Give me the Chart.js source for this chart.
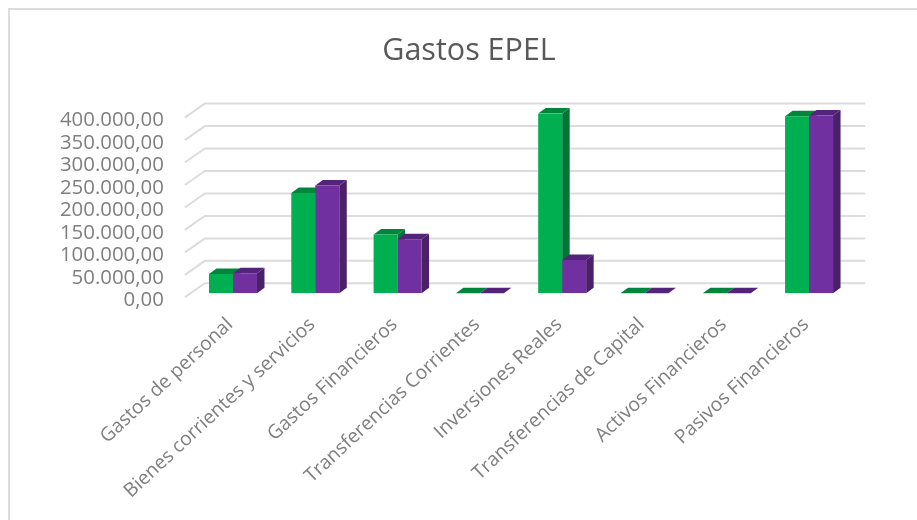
<!DOCTYPE html>
<html>
<head>
<meta charset="utf-8">
<title>Gastos EPEL</title>
<script src="https://cdn.jsdelivr.net/npm/chart.js@4"></script>
<style>
  html, body { margin: 0; padding: 0; background: #fff; }
  #wrap { position: relative; width: 917px; height: 520px; overflow: hidden; }
  #frame { position: absolute; left: 8px; top: 8px; width: 950px; height: 560px; border: 2px solid #dcdcdc; }
  canvas { position: absolute; left: 0; top: 0; }
</style>
</head>
<body>
<div id="wrap">
  <div id="frame"></div>
  <canvas id="gastosChart" width="917" height="520"></canvas>
</div>
<script>
const categories = ['Gastos de personal', 'Bienes corrientes y servicios', 'Gastos Financieros', 'Transferencias Corrientes', 'Inversiones Reales', 'Transferencias de Capital', 'Activos Financieros', 'Pasivos Financieros'];
const serieVerde = [43000, 223500, 131000, 0, 400000, 0, 0, 394000];
const serieMorada = [44500, 240000, 120500, 0, 74000, 0, 0, 395500];
const tickLabels = ['0,00', '50.000,00', '100.000,00', '150.000,00', '200.000,00', '250.000,00', '300.000,00', '350.000,00', '400.000,00'];

const depthX = 7.5;
const depthY = 5.5;
const darkColors = [{ top: '#00863c', side: '#007535' }, { top: '#53247a', side: '#4a2168' }];

// 3d look: back wall grid and the top/side faces of each bar
const fake3d = {
  id: 'fake3d',
  beforeDatasetsDraw(chart) {
    const ctx = chart.ctx;
    const area = chart.chartArea;
    const yScale = chart.scales.y;

    ctx.save();
    ctx.strokeStyle = '#dcdcdc';
    ctx.lineWidth = 2;
    yScale.ticks.forEach(t => {
      const y = yScale.getPixelForValue(t.value);
      ctx.beginPath();
      ctx.moveTo(area.left - 7, y + 4);
      ctx.lineTo(area.left + 13, y - 10);
      ctx.lineTo(area.right + 15, y - 10);
      ctx.stroke();
    });

    chart.data.datasets.forEach((ds, i) => {
      chart.getDatasetMeta(i).data.forEach(bar => {
        const left = bar.x - bar.width / 2;
        const right = bar.x + bar.width / 2;
        ctx.fillStyle = darkColors[i].side;
        ctx.beginPath();
        ctx.moveTo(right, bar.y);
        ctx.lineTo(right + depthX, bar.y - depthY);
        ctx.lineTo(right + depthX, bar.base - depthY);
        ctx.lineTo(right, bar.base);
        ctx.closePath();
        ctx.fill();
        ctx.fillStyle = darkColors[i].top;
        ctx.beginPath();
        ctx.moveTo(left, bar.y);
        ctx.lineTo(left + depthX, bar.y - depthY);
        ctx.lineTo(right + depthX, bar.y - depthY);
        ctx.lineTo(right, bar.y);
        ctx.closePath();
        ctx.fill();
      });
    });
    ctx.restore();
  }
};

new Chart(document.getElementById('gastosChart'), {
  type: 'bar',
  data: {
    labels: categories,
    datasets: [
      { data: serieVerde, backgroundColor: '#00b050' },
      { data: serieMorada, backgroundColor: '#7030a0' }
    ]
  },
  options: {
    responsive: false,
    animation: false,
    layout: { padding: { left: 21, right: 0, top: 0, bottom: 0 } },
    datasets: { bar: { barPercentage: 1, categoryPercentage: 0.583 } },
    plugins: {
      legend: { display: false },
      tooltip: { enabled: false },
      title: {
        display: true,
        text: 'Gastos EPEL',
        color: '#595959',
        font: { family: '"Open Sans"', size: 30.5, weight: 'normal' },
        padding: { top: 33, bottom: 44 }
      }
    },
    scales: {
      x: {
        grid: { display: false },
        border: { display: false },
        afterFit(scale) {
          scale.height = 226.7;
          scale.paddingLeft = 0;
          scale.paddingRight = 66.8;
        },
        ticks: {
          color: '#7f7f7f',
          font: { family: '"Open Sans"', size: 19.3 },
          maxRotation: 43,
          minRotation: 43,
          autoSkip: false,
          padding: 12,
          labelOffset: -3
        }
      },
      y: {
        min: 0,
        max: 400000,
        grid: { display: false },
        border: { display: false },
        afterFit(scale) {
          scale.width = 170.85;
          scale.paddingTop = 0;
          scale.paddingBottom = 0;
        },
        ticks: {
          autoSkip: false,
          stepSize: 50000,
          color: '#7f7f7f',
          font: { family: '"Open Sans"', size: 20.4 },
          padding: 20,
          labelOffset: 7,
          callback: (value, index) => tickLabels[index]
        }
      }
    }
  },
  plugins: [fake3d]
});
</script>
</body>
</html>
